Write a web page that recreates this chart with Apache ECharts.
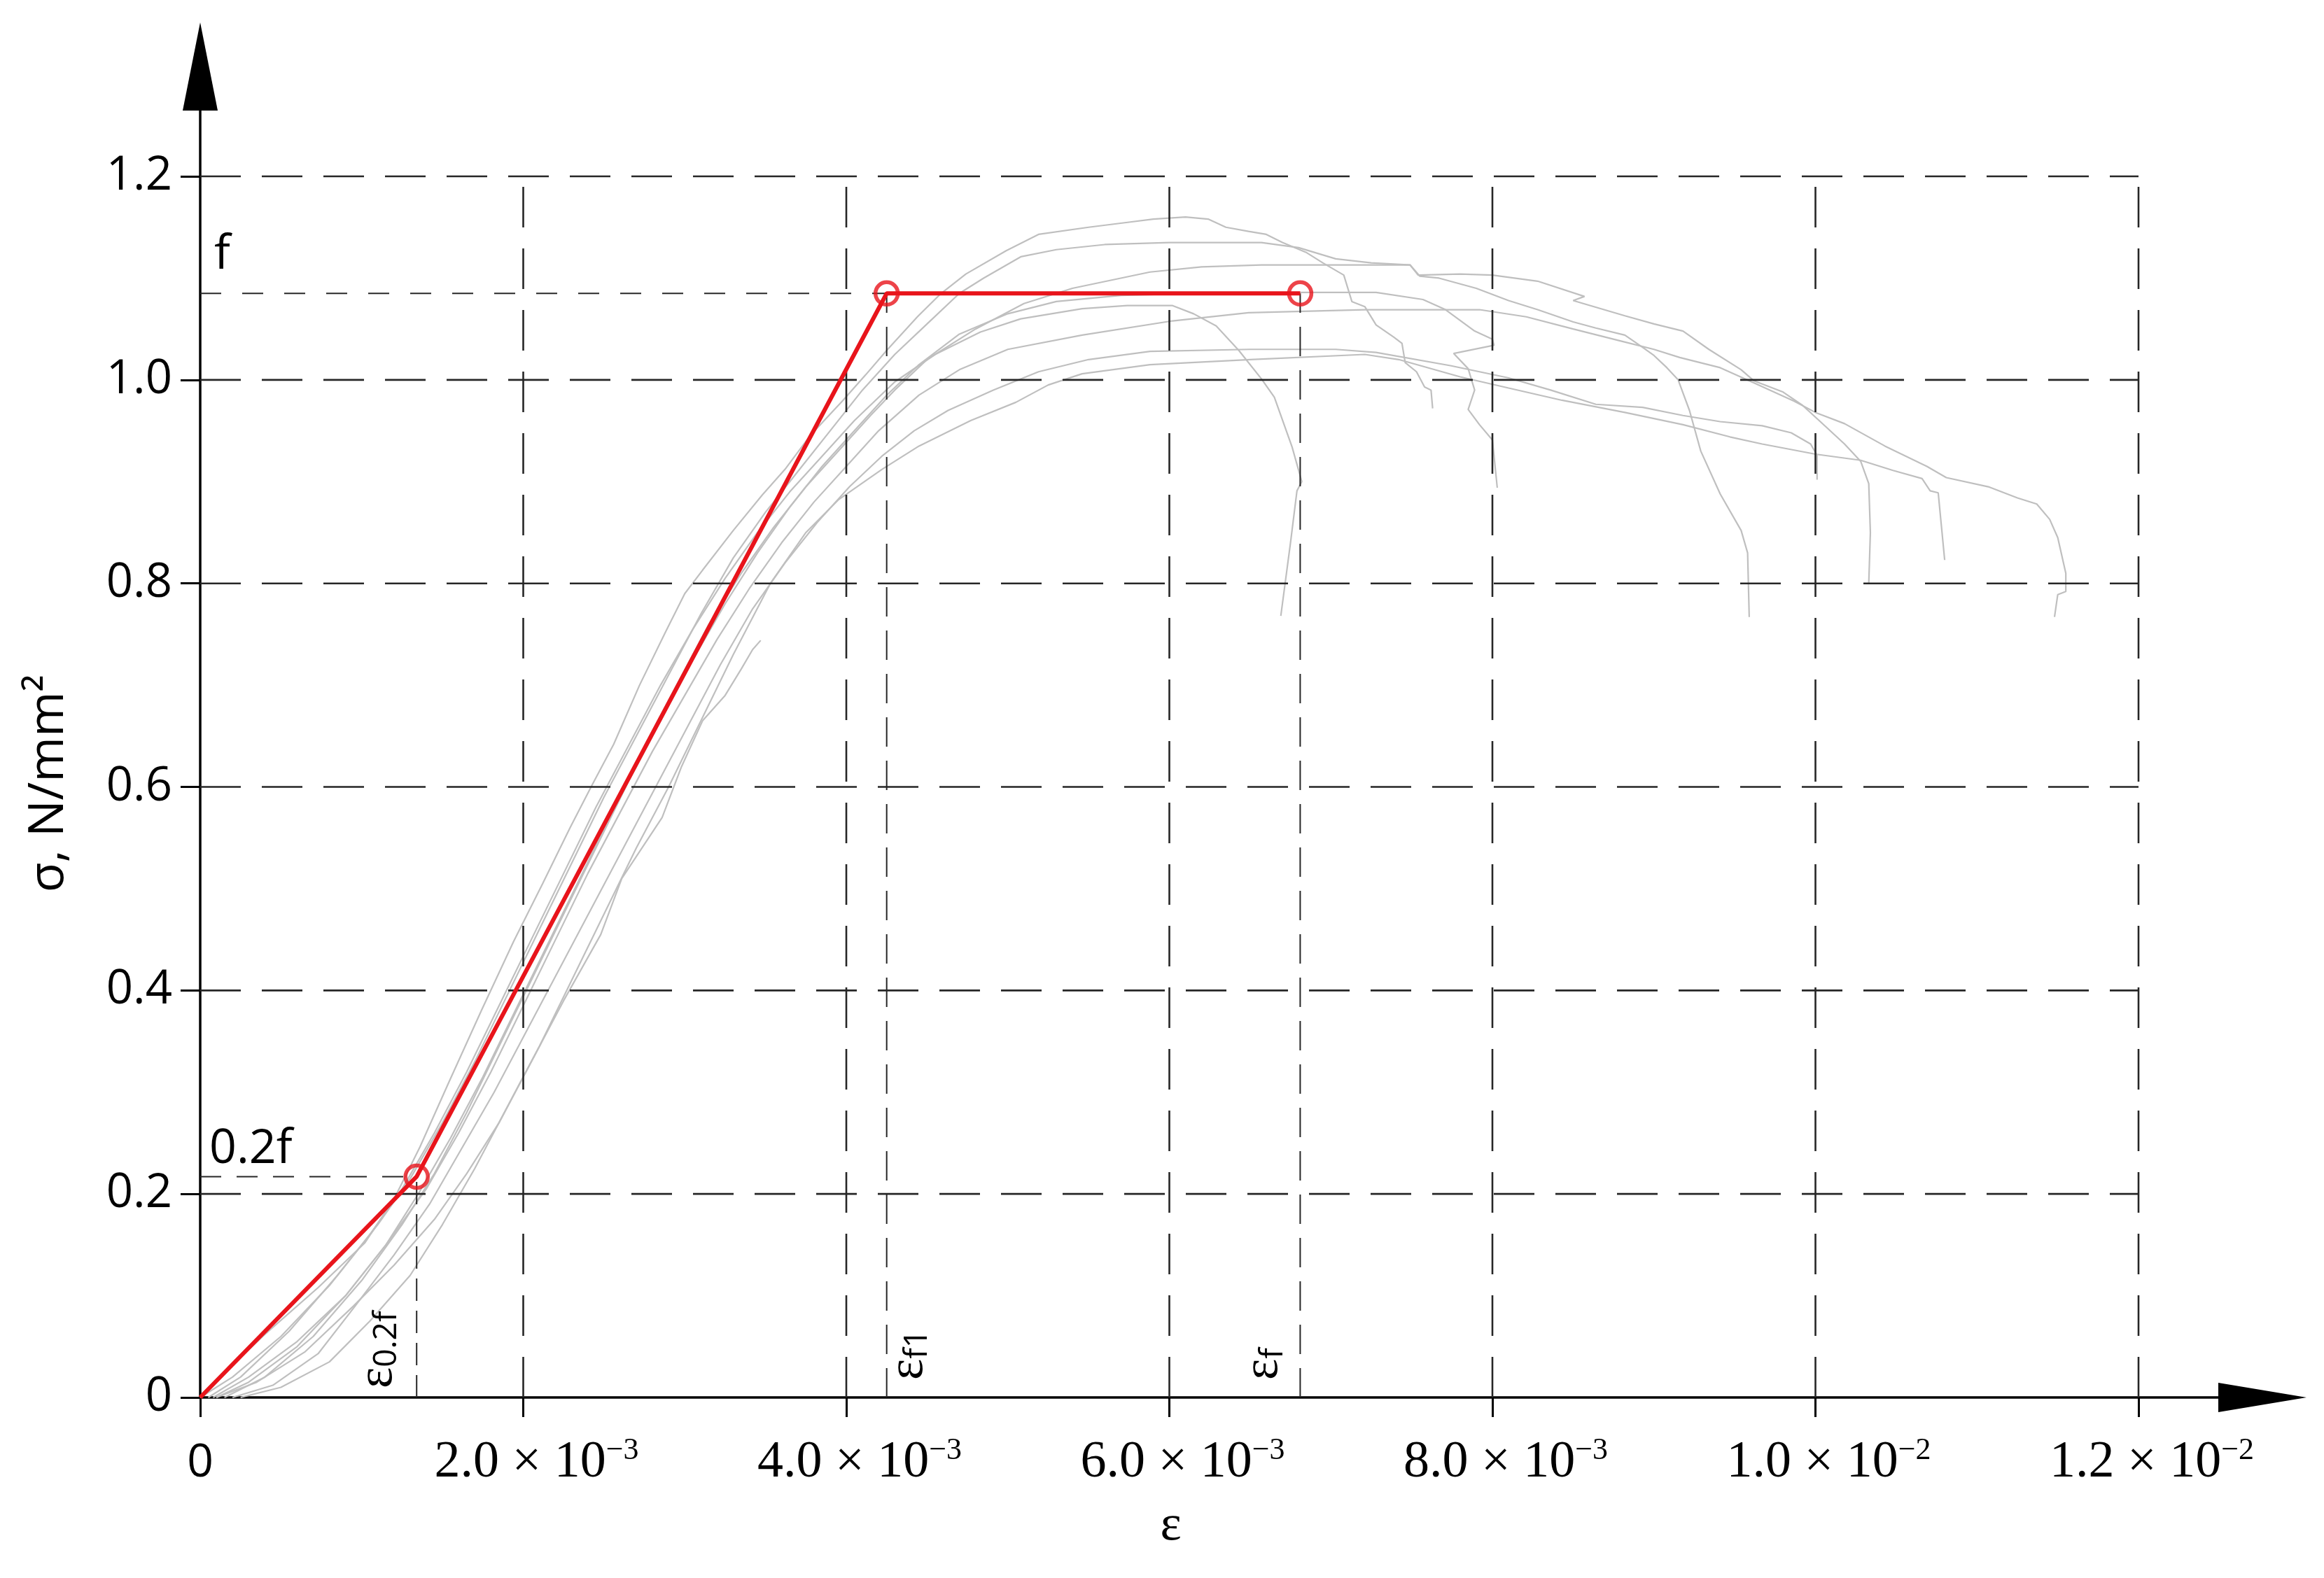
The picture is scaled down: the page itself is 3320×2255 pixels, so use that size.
<!DOCTYPE html>
<html>
<head>
<meta charset="utf-8">
<title>σ–ε</title>
<script src="https://cdn.jsdelivr.net/npm/echarts@6/dist/echarts.min.js"></script>
<style>
  html, body { margin: 0; padding: 0; background: #fff; }
  #main { width: 3320px; height: 2255px; }
</style>
</head>
<body>
<div id="main"></div>
<script>
// strain is kept in units of 1e-3, stress in N/mm2
const X_TICKS = [0, 2, 4, 6, 8, 10, 12];
const X_MANTISSA = ['0', '2.0', '4.0', '6.0', '8.0', '1.0', '1.2'];
const X_EXPONENT = ['', '−3', '−3', '−3', '−3', '−2', '−2'];
const Y_TICKS = [0, 0.2, 0.4, 0.6, 0.8, 1.0, 1.2];
const Y_LABELS = ['0', '0.2', '0.4', '0.6', '0.8', '1.0', '1.2'];

// idealised curve: origin, 0.2f, f (eps_f1), f (eps_f)
const RED_X = [0, 1.34, 4.25, 6.81];
const RED_Y = [0, 0.217, 1.085, 1.085];
const RED_NAMES = ['', 'ε|0.2f', 'ε|f1', 'ε|f'];

// test curves (grey)
const curveA = [[0,0],[0.12,0.02],[0.4,0.062],[0.73,0.108],[1.02,0.152],[1.2,0.195],[1.36,0.246],[1.54,0.31],[1.74,0.38],[1.94,0.448],[2.12,0.505],[2.29,0.56],[2.42,0.6],[2.56,0.642],[2.72,0.7],[2.88,0.752],[3.0,0.79],[3.11,0.813],[3.3,0.852],[3.48,0.887],[3.62,0.912],[3.78,0.946],[3.98,0.98],[4.12,1.005],[4.25,1.029],[4.44,1.062],[4.58,1.084],[4.74,1.104],[4.99,1.127],[5.19,1.143],[5.5,1.15],[5.75,1.155],[5.9,1.158],[6.1,1.16],[6.24,1.158],[6.35,1.15],[6.49,1.146],[6.6,1.143],[6.7,1.135],[6.85,1.125],[6.95,1.115],[7.08,1.103],[7.13,1.077],[7.21,1.072],[7.28,1.054],[7.39,1.042],[7.44,1.036],[7.46,1.017],[7.53,1.008],[7.58,0.993],[7.62,0.99],[7.63,0.972]];
const curveB = [[0.05,0],[0.25,0.02],[0.55,0.065],[0.85,0.12],[1.1,0.17],[1.3,0.215],[1.5,0.27],[1.7,0.33],[1.9,0.395],[2.1,0.46],[2.3,0.525],[2.5,0.59],[2.7,0.65],[2.9,0.71],[3.1,0.77],[3.3,0.825],[3.5,0.87],[3.7,0.91],[3.9,0.95],[4.1,0.99],[4.3,1.025],[4.5,1.055],[4.7,1.085],[4.85,1.1],[5.08,1.121],[5.3,1.128],[5.6,1.133],[6.0,1.135],[6.57,1.135],[6.8,1.13],[7.03,1.119],[7.25,1.115],[7.49,1.113],[7.55,1.102],[7.67,1.1],[7.9,1.09],[8.1,1.078],[8.28,1.069],[8.5,1.057],[8.64,1.051],[8.82,1.044],[8.93,1.032],[9.0,1.024],[9.08,1.012],[9.15,1.0],[9.22,0.97],[9.29,0.93],[9.41,0.888],[9.54,0.852],[9.58,0.83],[9.59,0.767]];
const curveC = [[0.1,0],[0.3,0.015],[0.6,0.05],[0.9,0.1],[1.15,0.15],[1.35,0.2],[1.55,0.255],[1.75,0.315],[1.95,0.38],[2.15,0.445],[2.35,0.51],[2.55,0.575],[2.75,0.64],[2.95,0.7],[3.15,0.76],[3.35,0.81],[3.55,0.855],[3.75,0.895],[3.95,0.93],[4.15,0.965],[4.3,0.99],[4.5,1.02],[4.8,1.05],[5.1,1.075],[5.4,1.09],[5.88,1.106],[6.2,1.111],[6.57,1.113],[7.0,1.113],[7.49,1.113],[7.54,1.103],[7.8,1.104],[8.0,1.103],[8.28,1.097],[8.57,1.082],[8.5,1.078],[8.82,1.063],[9.0,1.055],[9.18,1.048],[9.34,1.03],[9.54,1.01],[9.62,0.999],[9.8,0.988],[9.92,0.975],[10.03,0.959],[10.18,0.937],[10.28,0.92],[10.33,0.898],[10.34,0.85],[10.33,0.8]];
const curveD = [[0.15,0],[0.4,0.02],[0.7,0.06],[1.0,0.115],[1.25,0.17],[1.45,0.22],[1.65,0.28],[1.85,0.345],[2.05,0.41],[2.25,0.475],[2.45,0.54],[2.65,0.605],[2.85,0.665],[3.05,0.725],[3.25,0.78],[3.45,0.83],[3.65,0.875],[3.85,0.915],[4.05,0.95],[4.25,0.985],[4.45,1.015],[4.7,1.045],[5.0,1.065],[5.3,1.077],[5.7,1.083],[6.2,1.085],[6.84,1.086],[7.28,1.086],[7.57,1.079],[7.71,1.069],[7.89,1.048],[8.0,1.04],[8.01,1.034],[7.76,1.026],[7.85,1.011],[7.89,0.99],[7.85,0.971],[7.92,0.956],[8.0,0.941],[8.03,0.894]];
const curveE = [[0,0],[0.2,0.02],[0.5,0.06],[0.8,0.11],[1.05,0.16],[1.25,0.205],[1.45,0.26],[1.65,0.32],[1.85,0.385],[2.05,0.45],[2.25,0.515],[2.45,0.58],[2.65,0.64],[2.85,0.7],[3.05,0.755],[3.25,0.805],[3.45,0.85],[3.65,0.89],[3.85,0.925],[4.05,0.96],[4.3,0.998],[4.55,1.025],[4.83,1.047],[5.08,1.06],[5.46,1.07],[5.74,1.073],[6.02,1.073],[6.15,1.065],[6.29,1.053],[6.43,1.029],[6.57,1.001],[6.65,0.983],[6.76,0.934],[6.82,0.9],[6.79,0.891],[6.75,0.84],[6.69,0.768]];
const curveF = [[0.08,0],[0.3,0.02],[0.6,0.055],[0.9,0.1],[1.15,0.15],[1.4,0.205],[1.6,0.26],[1.8,0.32],[2.0,0.385],[2.2,0.45],[2.4,0.515],[2.6,0.575],[2.8,0.635],[3.0,0.69],[3.2,0.745],[3.4,0.795],[3.6,0.84],[3.8,0.88],[4.0,0.915],[4.2,0.95],[4.45,0.985],[4.7,1.01],[5.0,1.03],[5.46,1.044],[6.02,1.058],[6.49,1.066],[7.21,1.069],[7.92,1.069],[8.21,1.062],[8.5,1.05],[8.8,1.038],[9.0,1.03],[9.16,1.022],[9.41,1.012],[9.62,0.997],[9.87,0.979],[10.0,0.968],[10.18,0.957],[10.43,0.935],[10.69,0.915],[10.81,0.904],[11.07,0.895],[11.25,0.884],[11.37,0.878],[11.45,0.863],[11.5,0.845],[11.55,0.81],[11.55,0.792],[11.5,0.789],[11.48,0.767]];
const curveG = [[0.2,0],[0.45,0.012],[0.73,0.043],[0.96,0.09],[1.2,0.14],[1.42,0.19],[1.62,0.245],[1.82,0.3],[2.02,0.36],[2.22,0.42],[2.42,0.48],[2.62,0.54],[2.82,0.6],[3.02,0.66],[3.22,0.72],[3.42,0.775],[3.62,0.82],[3.82,0.86],[4.02,0.895],[4.22,0.925],[4.42,0.95],[4.63,0.97],[4.91,0.99],[5.19,1.008],[5.5,1.02],[5.88,1.028],[6.5,1.03],[7.03,1.03],[7.28,1.027],[7.74,1.014],[8.1,1.002],[8.36,0.99],[8.64,0.976],[8.93,0.973],[9.18,0.965],[9.41,0.959],[9.67,0.955],[9.85,0.948],[9.97,0.937],[10.01,0.926],[10.01,0.902]];
const curveH = [[0.25,0],[0.5,0.01],[0.8,0.035],[1.05,0.075],[1.3,0.12],[1.5,0.17],[1.7,0.225],[1.9,0.285],[2.1,0.345],[2.3,0.41],[2.5,0.475],[2.7,0.54],[2.9,0.6],[3.1,0.665],[3.3,0.73],[3.53,0.8],[3.75,0.85],[3.95,0.882],[4.22,0.912],[4.45,0.935],[4.77,0.96],[5.05,0.978],[5.25,0.995],[5.46,1.006],[5.88,1.015],[6.5,1.02],[7.21,1.025],[7.42,1.02],[7.8,1.003],[8.1,0.992],[8.43,0.98],[8.82,0.968],[9.18,0.956],[9.47,0.944],[9.67,0.937],[10.0,0.927],[10.28,0.921],[10.48,0.911],[10.66,0.903],[10.71,0.891],[10.76,0.889],[10.8,0.823]];
const curveI = [[0.1,0],[0.35,0.015],[0.65,0.045],[0.95,0.09],[1.2,0.13],[1.45,0.175],[1.65,0.22],[1.85,0.27],[2.05,0.33],[2.25,0.39],[2.48,0.455],[2.61,0.51],[2.86,0.57],[2.98,0.62],[3.11,0.665],[3.25,0.69],[3.35,0.716],[3.42,0.735],[3.47,0.744]];
const GREY_CURVES = [curveA, curveB, curveC, curveD, curveE, curveF, curveG, curveH, curveI];

const GRID_X = [2, 4, 6, 8, 10, 12];
const GRID_Y = [0.2, 0.4, 0.6, 0.8, 1.0, 1.2];

const X_AXIS_END = 12.767;   // arrow sits past 1.2e-2
const Y_AXIS_END = 1.308;

const RED = '#e8141b';
const GRID_COLOR = '#262626';
const SANS = '"Open Sans", "Noto Sans", sans-serif';
const SERIF = '"Liberation Serif", "DejaVu Serif", serif';

function seg (points, dash, width, z) {
  return {
    type: 'line',
    data: points,
    symbol: 'none',
    silent: true,
    z: z,
    lineStyle: { color: GRID_COLOR, width: width, type: dash }
  };
}

const series = [];

// experimental curves
GREY_CURVES.forEach(function (c) {
  series.push({
    type: 'line',
    data: c,
    symbol: 'none',
    silent: true,
    z: 2,
    lineStyle: { color: '#bfbfbf', width: 2.2 }
  });
});

// grid
GRID_X.forEach(function (x) {
  series.push(seg([[x, 0], [x, GRID_Y[GRID_Y.length - 1]]], [58, 30], 2.6, 3));
});
GRID_Y.forEach(function (y) {
  series.push(seg([[0, y], [GRID_X[GRID_X.length - 1], y]], [58, 30], 2.6, 3));
});

// f and 0.2f helper lines
series.push(seg([[0, RED_Y[2]], [RED_X[2], RED_Y[2]]], [30, 30], 2, 4));
series.push(seg([[0, RED_Y[1]], [RED_X[1], RED_Y[1]]], [30, 22], 2, 4));
series.push(seg([[RED_X[1], 0], [RED_X[1], RED_Y[1]]], [32, 14], 2, 4));
series.push(seg([[RED_X[2], 0], [RED_X[2], RED_Y[2]]], [42, 20], 2, 4));
series.push(seg([[RED_X[3], 0], [RED_X[3], RED_Y[3]]], [42, 20], 2, 4));

const redPts = RED_X.map(function (x, i) { return [x, RED_Y[i]]; });
series.push({
  type: 'line',
  data: redPts,
  symbol: 'none',
  silent: true,
  z: 6,
  lineStyle: { color: RED, width: 6 }
});
series.push({
  type: 'scatter',
  data: redPts.slice(1),
  symbol: 'circle',
  symbolSize: 32,
  silent: true,
  z: 7,
  itemStyle: { color: 'rgba(0,0,0,0)', borderColor: RED, borderWidth: 5.5 }
});

const option = {
  animation: false,
  backgroundColor: '#fff',
  grid: { left: 286, right: 88, top: 95, bottom: 258, containLabel: false },
  xAxis: {
    type: 'value',
    min: 0,
    max: X_AXIS_END,
    axisLine: {
      show: true,
      symbol: ['none', 'triangle'],
      symbolSize: [42, 126],
      lineStyle: { color: '#000', width: 3.5 }
    },
    axisTick: {
      show: true,
      inside: false,
      length: 28,
      customValues: X_TICKS,
      lineStyle: { color: '#000', width: 3 }
    },
    axisLabel: {
      customValues: X_TICKS,
      margin: 54,
      formatter: function (v) {
        const i = X_TICKS.indexOf(v);
        if (i < 0) return '';
        if (!X_EXPONENT[i]) return '{z|' + X_MANTISSA[i] + '}';
        return '{m|' + X_MANTISSA[i] + ' × 10}{e|' + X_EXPONENT[i] + '}';
      },
      rich: {
        z: { fontFamily: SANS, fontSize: 66, lineHeight: 80, color: '#000' },
        m: { fontFamily: SERIF, fontSize: 74, lineHeight: 80, color: '#000', padding: [0, 0, 0, 38] },
        e: { fontFamily: SERIF, fontSize: 44, lineHeight: 46, color: '#000', verticalAlign: 'top' }
      }
    },
    splitLine: { show: false }
  },
  yAxis: {
    type: 'value',
    min: 0,
    max: Y_AXIS_END,
    axisLine: {
      show: true,
      symbol: ['none', 'triangle'],
      symbolSize: [50, 126],
      lineStyle: { color: '#000', width: 3.5 }
    },
    axisTick: {
      show: true,
      inside: false,
      length: 28,
      customValues: Y_TICKS,
      lineStyle: { color: '#000', width: 3 }
    },
    axisLabel: {
      customValues: Y_TICKS,
      margin: 40,
      fontFamily: SANS,
      fontSize: 67,
      color: '#000',
      formatter: function (v) {
        const i = Y_TICKS.indexOf(v);
        return i < 0 ? '' : Y_LABELS[i];
      }
    },
    splitLine: { show: false }
  },
  series: series
};

const chart = echarts.init(document.getElementById('main'), null, { renderer: 'canvas' });
chart.setOption(option);

// annotations placed through the chart's own scales
function px (x, y) { return chart.convertToPixel({ gridIndex: 0 }, [x, y]); }

const epsRich = {
  e: { fontFamily: SERIF, fontSize: 72, lineHeight: 72, fill: '#000' },
  s: { fontFamily: SANS, fontSize: 46, lineHeight: 17, verticalAlign: 'bottom', fill: '#000' }
};
function epsText (i, side) {
  const p = px(RED_X[i], 0);
  const parts = RED_NAMES[i].split('|');
  return {
    type: 'text',
    x: side === 'left' ? p[0] - (i === 1 ? 19 : 16) : p[0] - 5,
    y: p[1] - (i === 1 ? 13 : 25),
    rotation: Math.PI / 2,
    silent: true,
    z: 10,
    style: {
      text: '{e|' + parts[0] + '}{s|' + parts[1] + '}',
      rich: epsRich,
      align: 'left',
      verticalAlign: side === 'left' ? 'bottom' : 'top'
    }
  };
}

const pF = px(0, RED_Y[2]);
const p02 = px(0, RED_Y[1]);
const pXName = px(6, 0);
const pYName = px(0, 0.6);

chart.setOption({
  graphic: [
    { type: 'text', x: pF[0] + 20, y: pF[1] - 55, silent: true, z: 10,
      style: { text: 'f', font: '68px ' + SANS, fill: '#000', align: 'left', verticalAlign: 'middle' } },
    { type: 'text', x: p02[0] + 13, y: p02[1] - 39, silent: true, z: 10,
      style: { text: '0.2f', font: '68px ' + SANS, fill: '#000', align: 'left', verticalAlign: 'middle' } },
    epsText(1, 'left'),
    epsText(2, 'right'),
    epsText(3, 'left'),
    { type: 'text', x: pXName[0] + 2, y: 2181, silent: true, z: 10,
      style: { text: 'ε', font: '72px ' + SERIF, fill: '#000', align: 'center', verticalAlign: 'middle' } },
    { type: 'text', x: 70, y: pYName[1] - 5, rotation: Math.PI / 2, silent: true, z: 10,
      style: { text: 'σ, N/mm²', font: '70px ' + SANS, fill: '#000', align: 'center', verticalAlign: 'middle' } }
  ]
});
</script>
</body>
</html>
